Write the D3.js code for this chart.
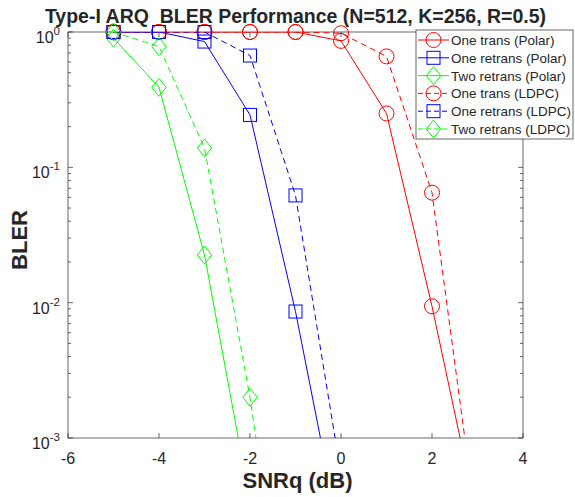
<!DOCTYPE html>
<html lang="en">
<head>
<meta charset="UTF-8">
<script src="https://d3js.org/d3.v7.min.js"></script>
<title>Type-I ARQ BLER Performance</title>
<style>
    body { margin: 0; background: #fff; }
    text { font-family: "Liberation Sans", Arial, sans-serif; fill: #262626; }
</style>
</head>
<body>
<div id="chart"></div>
<script>
    // data
    const snr = [-5, -4, -3, -2, -1, 0, 1, 2, 3];
    const oneTransPolar   = [1, 1, 1, 1, 1, 0.86, 0.25, 0.0094, 0.00025];
    const oneRetransPolar = [1, 1, 0.85, 0.244, 0.0086, 0.00017];
    const twoRetransPolar = [0.9, 0.39, 0.0225, 0.00034];
    const oneTransLDPC    = [1, 1, 1, 1, 1, 0.98, 0.66, 0.065, 0.0002];
    const oneRetransLDPC  = [1, 1, 1, 0.67, 0.062, 0.00054];
    const twoRetransLDPC  = [1, 0.78, 0.139, 0.002, 0.00001];

    const legendNames = ["One trans (Polar)", "One retrans (Polar)", "Two retrans (Polar)",
                         "One trans (LDPC)", "One retrans (LDPC)", "Two retrans (LDPC)"];
    const xTicks = [-6, -4, -2, 0, 2, 4];
    const yExps = [0, -1, -2, -3];

    const series = [
        { name: legendNames[0], vals: oneTransPolar,   color: "#ff0000", dash: null,  mark: "circle" },
        { name: legendNames[1], vals: oneRetransPolar, color: "#0000ff", dash: null,  mark: "square" },
        { name: legendNames[2], vals: twoRetransPolar, color: "#00ff00", dash: null,  mark: "diamond" },
        { name: legendNames[3], vals: oneTransLDPC,    color: "#ff0000", dash: "6,4", mark: "circle" },
        { name: legendNames[4], vals: oneRetransLDPC,  color: "#0000ff", dash: "6,4", mark: "square" },
        { name: legendNames[5], vals: twoRetransLDPC,  color: "#00ff00", dash: "6,4", mark: "diamond" }
    ];

    const width = 575, height = 497;
    const m = { left: 68, right: 52, top: 32, bottom: 59 };
    const iw = width - m.left - m.right, ih = height - m.top - m.bottom;

    const svg = d3.select("#chart").append("svg")
        .attr("width", width).attr("height", height);

    const x = d3.scaleLinear().domain([-6, 4]).range([m.left, m.left + iw]);
    const y = d3.scaleLog().domain([1e-3, 1]).range([m.top + ih, m.top]);

    svg.append("defs").append("clipPath").attr("id", "clip")
        .append("rect").attr("x", m.left).attr("y", m.top).attr("width", iw).attr("height", ih);

    const axisColor = "#262626";
    const tk = 5;

    // box + ticks
    const ax = svg.append("g").attr("stroke", axisColor).attr("stroke-width", 0.7).attr("fill", "none");
    ax.append("rect").attr("x", m.left).attr("y", m.top).attr("width", iw).attr("height", ih);

    xTicks.forEach(v => {
        ax.append("line").attr("x1", x(v)).attr("x2", x(v)).attr("y1", m.top + ih).attr("y2", m.top + ih - tk);
        ax.append("line").attr("x1", x(v)).attr("x2", x(v)).attr("y1", m.top).attr("y2", m.top + tk);
    });
    yExps.forEach(e => {
        const yy = y(Math.pow(10, e));
        ax.append("line").attr("x1", m.left).attr("x2", m.left + tk).attr("y1", yy).attr("y2", yy);
        ax.append("line").attr("x1", m.left + iw).attr("x2", m.left + iw - tk).attr("y1", yy).attr("y2", yy);
        if (e < 0) {
            for (let k = 2; k <= 9; k++) {
                const ym = y(k * Math.pow(10, e));
                ax.append("line").attr("x1", m.left).attr("x2", m.left + 3).attr("y1", ym).attr("y2", ym);
                ax.append("line").attr("x1", m.left + iw).attr("x2", m.left + iw - 3).attr("y1", ym).attr("y2", ym);
            }
        }
    });

    // tick labels
    svg.append("g").selectAll("text").data(xTicks).join("text")
        .attr("x", d => x(d)).attr("y", m.top + ih + 26)
        .attr("text-anchor", "middle").attr("font-size", 16)
        .text(d => d);

    const yl = svg.append("g").selectAll("text").data(yExps).join("text")
        .attr("x", m.left - 8).attr("y", d => y(Math.pow(10, d)) + 11)
        .attr("text-anchor", "end").attr("font-size", 16);
    yl.append("tspan").text("10");
    yl.append("tspan").attr("dy", -8).attr("font-size", 11.5).text(d => d);

    // titles
    svg.append("text").attr("x", m.left + iw / 2).attr("y", 23).attr("text-anchor", "middle")
        .attr("font-size", 19.5).attr("font-weight", "bold").attr("fill", "#000")
        .style("white-space", "pre").attr("xml:space", "preserve")
        .text("Type-I ARQ  BLER Performance (N=512, K=256, R=0.5)");
    svg.append("text").attr("x", m.left + iw / 2 + 2).attr("y", 488).attr("text-anchor", "middle")
        .attr("font-size", 22).attr("font-weight", "bold").text("SNRq (dB)");
    svg.append("text").attr("transform", "translate(27,240) rotate(-90)")
        .attr("text-anchor", "middle").attr("font-size", 22).attr("font-weight", "bold").text("BLER");

    function drawMarker(g, kind, cx, cy, color) {
        if (kind === "circle") {
            g.append("circle").attr("cx", cx).attr("cy", cy).attr("r", 7.5)
                .attr("fill", "none").attr("stroke", color);
        } else if (kind === "square") {
            g.append("rect").attr("x", cx - 6.5).attr("y", cy - 6.5).attr("width", 13).attr("height", 13)
                .attr("fill", "none").attr("stroke", color);
        } else {
            const r = 9;
            g.append("path").attr("d", `M${cx},${cy - r}L${cx + r * 0.8},${cy}L${cx},${cy + r}L${cx - r * 0.8},${cy}Z`)
                .attr("fill", "none").attr("stroke", color);
        }
    }

    const line = d3.line().x(d => x(d[0])).y(d => y(d[1]));

    series.forEach(s => {
        const pts = s.vals.map((v, i) => [snr[i], v]);
        const g = svg.append("g");
        g.append("path").datum(pts).attr("d", line).attr("clip-path", "url(#clip)")
            .attr("fill", "none").attr("stroke", s.color).attr("stroke-width", 1)
            .attr("stroke-dasharray", s.dash);
        pts.filter(p => p[1] >= 1e-3).forEach(p => drawMarker(g, s.mark, x(p[0]), y(p[1]), s.color));
    });

    // legend
    const lx = 416, ly = 30, lw = 157, lh = 109, row = 17.8;
    const lg = svg.append("g");
    lg.append("rect").attr("x", lx).attr("y", ly).attr("width", lw).attr("height", lh)
        .attr("fill", "#fff").attr("stroke", axisColor).attr("stroke-width", 0.7);
    series.forEach((s, i) => {
        const yy = ly + 10 + i * row;
        lg.append("line").attr("x1", lx + 2).attr("x2", lx + 33).attr("y1", yy).attr("y2", yy)
            .attr("stroke", s.color).attr("stroke-dasharray", s.dash ? "5,3" : null);
        drawMarker(lg, s.mark, lx + 17.5, yy, s.color);
        lg.append("text").attr("x", lx + 35).attr("y", yy + 5).attr("font-size", 13.5)
            .attr("fill", "#000").text(s.name);
    });
</script>
</body>
</html>
